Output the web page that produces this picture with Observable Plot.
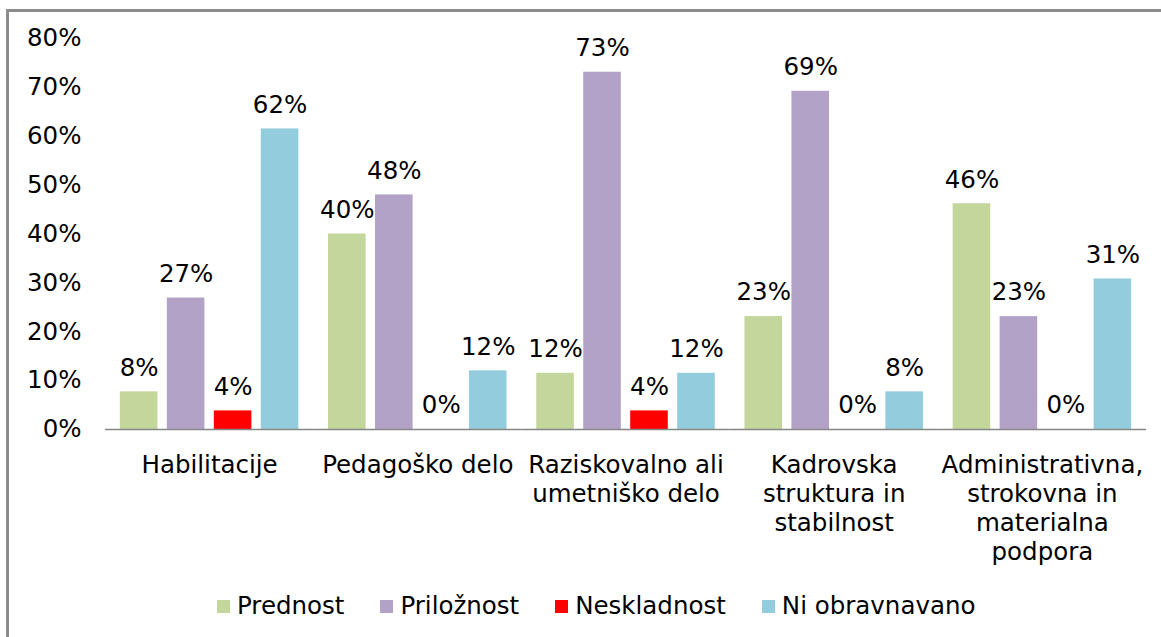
<!DOCTYPE html>
<html>
<head>
<meta charset="utf-8">
<script src="https://cdn.jsdelivr.net/npm/d3@7"></script>
<script src="https://cdn.jsdelivr.net/npm/@observablehq/plot@0.6"></script>
<style>
  html, body { margin: 0; padding: 0; background: #fff; }
  body { width: 1161px; height: 637px; overflow: hidden; position: relative; font-family: "DejaVu Sans", Verdana, sans-serif; }
  #frame { position: absolute; left: 6px; top: 9px; width: 1200px; height: 700px; border-top: 3px solid #8c8c8c; border-left: 3px solid #8c8c8c; pointer-events: none; }
  #chart { position: absolute; left: 0; top: 0; }
  #legend { position: absolute; left: 217px; top: 588px; display: flex; align-items: center; font-size: 24.5px; color: #000; line-height: 36px; }
  .item { display: flex; align-items: center; margin-right: 36px; }
  .sw { width: 13px; height: 13px; margin-right: 7px; display: inline-block; }
</style>
</head>
<body>
<div id="frame"></div>
<div id="chart"></div>
<div id="legend"></div>
<script>
const categories = [
  "Habilitacije",
  "Pedagoško delo",
  "Raziskovalno ali\numetniško delo",
  "Kadrovska\nstruktura in\nstabilnost",
  "Administrativna,\nstrokovna in\nmaterialna\npodpora"
];
const series = ["Prednost", "Priložnost", "Neskladnost", "Ni obravnavano"];
const colors = ["#C3D69B", "#B2A2C7", "#FF0000", "#93CDDD"];
const prednost     = [7.7, 40, 11.5, 23.1, 46.2];
const priloznost   = [26.9, 48, 73.1, 69.2, 23.1];
const neskladnost  = [3.8, 0, 3.8, 0, 0];
const niObravnavano = [61.5, 12, 11.5, 7.7, 30.8];
const yTicks = [0, 10, 20, 30, 40, 50, 60, 70, 80];

const seriesValues = [prednost, priloznost, neskladnost, niObravnavano];
const data = [];
categories.forEach((c, i) => {
  series.forEach((s, j) => {
    data.push({cat: c, series: s, value: seriesValues[j][i]});
  });
});

const plot = Plot.plot({
  width: 1161,
  height: 580,
  marginLeft: 105,
  marginRight: 15,
  marginTop: 38,
  marginBottom: 151,
  style: {fontFamily: "'DejaVu Sans', Verdana, sans-serif", fontSize: "24.5px", color: "#000", background: "transparent"},
  fx: {domain: categories, padding: 0, label: null, round: false},
  x: {domain: series, paddingInner: 0.2, paddingOuter: 0.316, axis: null, round: false},
  y: {domain: [0, 80], label: null},
  color: {domain: series, range: colors},
  marks: [
    Plot.barY(data, {fx: "cat", x: "series", y: "value", fill: "series"}),
    Plot.text(data, {fx: "cat", x: "series", y: "value", text: d => Math.round(d.value) + "%", dy: -24, fill: "#000"}),
    Plot.ruleY([0], {stroke: "#868686", strokeWidth: 1.5}),
    Plot.axisY({ticks: yTicks, tickSize: 0, tickPadding: 24, tickFormat: d => d + "%", label: null}),
    Plot.axisFx({anchor: "bottom", tickSize: 0, tickPadding: 22.5, lineHeight: 1.184, label: null})
  ]
});
document.getElementById("chart").appendChild(plot);

const colorScale = plot.scale("color");
const legend = d3.select("#legend");
colorScale.domain.forEach((s, i) => {
  const item = legend.append("div").attr("class", "item");
  item.append("span").attr("class", "sw").style("background", colorScale.range[i]);
  item.append("span").text(s);
});
</script>
</body>
</html>
